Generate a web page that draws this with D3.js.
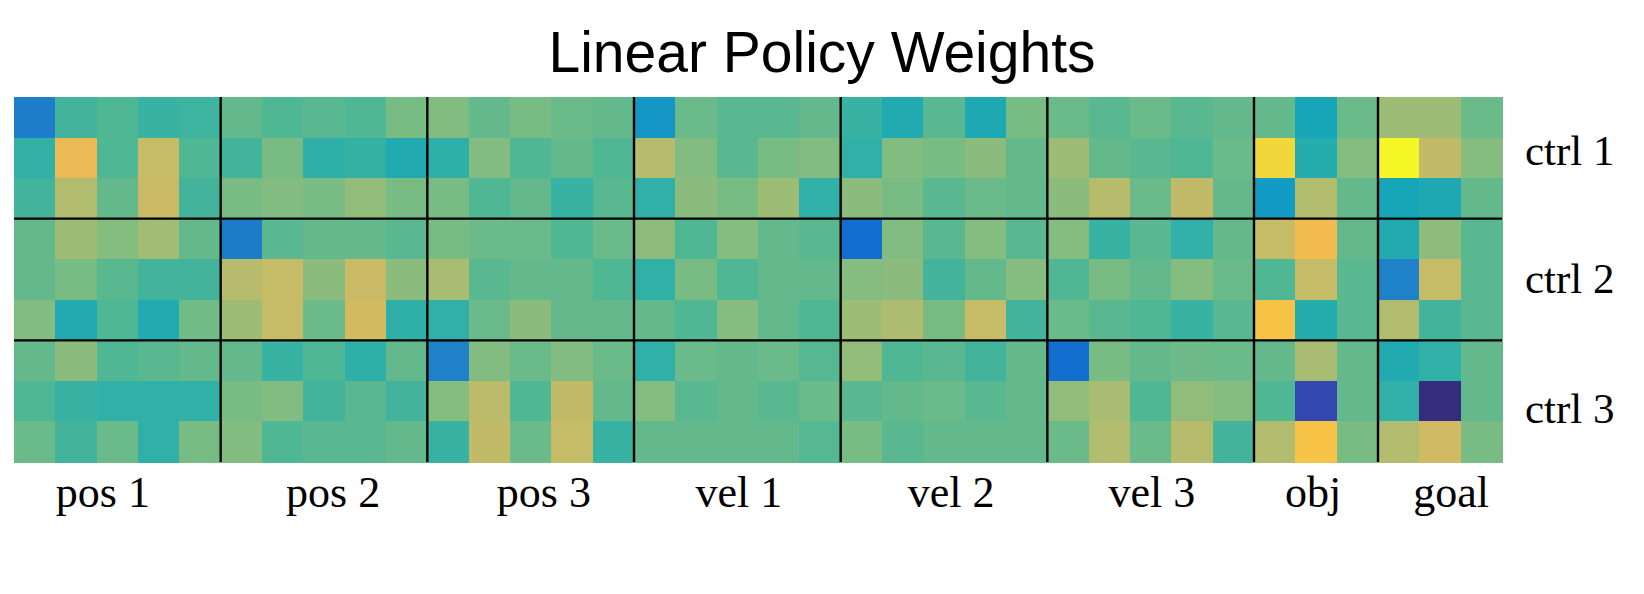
<!DOCTYPE html>
<html>
<head>
<meta charset="utf-8">
<script src="https://cdn.jsdelivr.net/npm/d3@7"></script>
<style>
  html, body { margin: 0; padding: 0; background: #ffffff; }
  svg { display: block; }
</style>
</head>
<body>
<svg id="chart" width="1644" height="594"></svg>
<script>
// ---------------- data ----------------
const chartTitle = "Linear Policy Weights";
const columnGroups = ["pos 1", "pos 2", "pos 3", "vel 1", "vel 2", "vel 3", "obj", "goal"];
const columnGroupSizes = [5, 5, 5, 5, 5, 5, 3, 3];
const rowGroups = ["ctrl 1", "ctrl 2", "ctrl 3"];
const rowGroupSizes = [3, 3, 3];
// label anchor positions, in column / row units
const columnLabelAt = [2.15, 7.72, 12.82, 17.54, 22.67, 27.53, 31.43, 34.77];
const rowLabelAt = [1.68, 4.83, 8.04];

// weights, one array per output row (9 rows x 36 inputs)
const row0 = [0.24,0.51,0.53,0.49,0.50,0.56,0.53,0.545,0.53,0.59, 0.605,0.56,0.59,0.57,0.56,0.33,0.57,0.545,0.545,0.56, 0.49,0.44,0.545,0.43,0.59,0.57,0.545,0.57,0.545, 0.56,0.56,0.41,0.57,0.65,0.65,0.57];
const row1 = [0.48,0.81,0.53,0.73,0.53,0.51,0.59,0.47,0.485,0.44, 0.47,0.605,0.53,0.56,0.53,0.70,0.605,0.545,0.59,0.605, 0.475,0.605,0.59,0.62,0.56,0.65,0.56,0.545,0.53, 0.57,0.92,0.45,0.61,1.0,0.72,0.61];
const row2 = [0.51,0.69,0.56,0.74,0.51,0.59,0.605,0.59,0.63,0.59, 0.59,0.53,0.56,0.49,0.545,0.475,0.62,0.59,0.65,0.475, 0.62,0.59,0.545,0.57,0.56,0.62,0.70,0.57,0.72, 0.56,0.35,0.69,0.56,0.41,0.43,0.56];
const row3 = [0.56,0.65,0.61,0.66,0.56,0.23,0.545,0.56,0.56,0.545, 0.59,0.57,0.57,0.53,0.57,0.625,0.53,0.61,0.56,0.545, 0.17,0.605,0.545,0.61,0.545,0.61,0.49,0.545,0.475, 0.56,0.73,0.83,0.56,0.44,0.625,0.545];
const row4 = [0.56,0.59,0.545,0.51,0.51,0.70,0.73,0.62,0.74,0.62, 0.67,0.545,0.56,0.56,0.53,0.475,0.59,0.53,0.56,0.56, 0.61,0.62,0.51,0.56,0.61,0.53,0.59,0.56,0.61, 0.57,0.53,0.73,0.545,0.25,0.73,0.545];
const row5 = [0.605,0.44,0.53,0.44,0.58,0.65,0.73,0.57,0.76,0.47, 0.475,0.57,0.62,0.56,0.56,0.56,0.53,0.61,0.56,0.53, 0.65,0.68,0.59,0.73,0.51,0.57,0.545,0.53,0.49, 0.545,0.86,0.45,0.545,0.69,0.51,0.545];
const row6 = [0.56,0.62,0.53,0.545,0.56,0.56,0.49,0.53,0.47,0.56, 0.25,0.605,0.57,0.605,0.57,0.475,0.57,0.56,0.57,0.54, 0.63,0.53,0.545,0.51,0.56,0.17,0.59,0.56,0.575, 0.57,0.56,0.67,0.56,0.44,0.475,0.56];
const row7 = [0.53,0.49,0.475,0.475,0.475,0.59,0.605,0.51,0.545,0.51, 0.61,0.71,0.53,0.72,0.56,0.61,0.545,0.56,0.545,0.57, 0.545,0.56,0.57,0.545,0.56,0.63,0.67,0.53,0.63, 0.61,0.53,0.07,0.56,0.475,0.0,0.56];
const row8 = [0.57,0.51,0.57,0.475,0.59,0.605,0.53,0.545,0.545,0.56, 0.49,0.72,0.57,0.73,0.49,0.56,0.56,0.56,0.56,0.54, 0.59,0.545,0.56,0.56,0.56,0.57,0.69,0.57,0.70, 0.51,0.69,0.86,0.59,0.69,0.75,0.59];
const weights = [row0, row1, row2, row3, row4, row5, row6, row7, row8];

// ---------------- colormap (parula, slightly desaturated as in the rendered figure) ----------------
const parulaRGB = [
[0.2081,0.1663,0.5292],[0.2116,0.1898,0.5777],[0.2123,0.2138,0.6270],[0.2081,0.2386,0.6771],
[0.1959,0.2645,0.7279],[0.1707,0.2919,0.7792],[0.1253,0.3242,0.8303],[0.0591,0.3598,0.8683],
[0.0117,0.3875,0.8820],[0.0060,0.4086,0.8828],[0.0165,0.4266,0.8786],[0.0329,0.4430,0.8720],
[0.0498,0.4586,0.8641],[0.0629,0.4737,0.8554],[0.0723,0.4887,0.8467],[0.0779,0.5040,0.8384],
[0.0793,0.5200,0.8312],[0.0749,0.5375,0.8263],[0.0641,0.5570,0.8240],[0.0488,0.5772,0.8228],
[0.0343,0.5966,0.8199],[0.0265,0.6137,0.8135],[0.0239,0.6287,0.8038],[0.0231,0.6418,0.7913],
[0.0228,0.6535,0.7768],[0.0267,0.6642,0.7607],[0.0384,0.6743,0.7436],[0.0590,0.6838,0.7254],
[0.0843,0.6928,0.7062],[0.1133,0.7015,0.6859],[0.1453,0.7098,0.6646],[0.1801,0.7177,0.6424],
[0.2178,0.7250,0.6193],[0.2586,0.7317,0.5954],[0.3022,0.7376,0.5712],[0.3482,0.7424,0.5473],
[0.3953,0.7459,0.5244],[0.4420,0.7481,0.5033],[0.4871,0.7491,0.4840],[0.5300,0.7491,0.4661],
[0.5709,0.7485,0.4494],[0.6099,0.7473,0.4337],[0.6473,0.7456,0.4188],[0.6834,0.7435,0.4044],
[0.7184,0.7411,0.3905],[0.7525,0.7384,0.3768],[0.7858,0.7356,0.3633],[0.8185,0.7327,0.3498],
[0.8507,0.7299,0.3360],[0.8824,0.7274,0.3217],[0.9139,0.7258,0.3063],[0.9450,0.7261,0.2886],
[0.9739,0.7314,0.2666],[0.9938,0.7455,0.2403],[0.9990,0.7653,0.2164],[0.9955,0.7861,0.1967],
[0.9880,0.8066,0.1794],[0.9789,0.8271,0.1633],[0.9697,0.8481,0.1475],[0.9626,0.8705,0.1309],
[0.9589,0.8949,0.1132],[0.9598,0.9218,0.0948],[0.9661,0.9514,0.0755],[0.9763,0.9831,0.0538]
];
const desat = 0.12;
const parula = parulaRGB.map(([r, g, b]) => {
  const l = 0.299 * r + 0.587 * g + 0.114 * b;
  const m = v => 255 * (v * (1 - desat) + l * desat);
  return d3.rgb(m(r), m(g), m(b)).formatHex();
});

// ---------------- layout ----------------
const svg = d3.select("#chart");
const nCols = d3.sum(columnGroupSizes);
const nRows = d3.sum(rowGroupSizes);
const x = d3.scaleLinear().domain([0, nCols]).range([14, 1502]);
const y = d3.scaleLinear().domain([0, nRows]).range([97, 462]);
const flat = weights.flat();
const color = d3.scaleSequential(d3.piecewise(d3.interpolateRgb, parula)).domain(d3.extent(flat));

// cells
const cells = [];
weights.forEach((row, r) => row.forEach((v, c) => cells.push({r, c, v})));
svg.append("g")
  .attr("shape-rendering", "crispEdges")
  .selectAll("rect")
  .data(cells)
  .join("rect")
  .attr("x", d => x(d.c))
  .attr("y", d => y(d.r))
  .attr("width", d => x(d.c + 1) - x(d.c) + 0.5)
  .attr("height", d => y(d.r + 1) - y(d.r) + 0.5)
  .attr("fill", d => color(d.v));

// group separator lines
const colBounds = d3.cumsum(columnGroupSizes).slice(0, -1);
const rowBounds = d3.cumsum(rowGroupSizes).slice(0, -1);
const lines = svg.append("g").attr("stroke", "#000").attr("stroke-width", 2.4);
lines.selectAll("line.v").data(colBounds).join("line")
  .attr("class", "v")
  .attr("x1", d => x(d)).attr("x2", d => x(d))
  .attr("y1", y(0)).attr("y2", y(nRows));
lines.selectAll("line.h").data(rowBounds).join("line")
  .attr("class", "h")
  .attr("x1", x(0)).attr("x2", x(nCols))
  .attr("y1", d => y(d)).attr("y2", d => y(d));

// title
svg.append("text")
  .attr("x", 822).attr("y", 72)
  .attr("text-anchor", "middle")
  .attr("font-family", "'Liberation Sans', Arial, Helvetica, sans-serif")
  .attr("font-size", 57)
  .attr("fill", "#000")
  .text(chartTitle);

// bottom group labels
svg.append("g").selectAll("text")
  .data(columnGroups)
  .join("text")
  .attr("x", (d, i) => x(columnLabelAt[i]))
  .attr("y", 507)
  .attr("text-anchor", "middle")
  .attr("font-family", "'Liberation Serif', 'DejaVu Serif', serif")
  .attr("font-size", 44)
  .attr("fill", "#000")
  .text(d => d);

// right group labels
svg.append("g").selectAll("text")
  .data(rowGroups)
  .join("text")
  .attr("x", 1525)
  .attr("y", (d, i) => y(rowLabelAt[i]))
  .attr("text-anchor", "start")
  .attr("font-family", "'Liberation Serif', 'DejaVu Serif', serif")
  .attr("font-size", 43)
  .attr("fill", "#000")
  .text(d => d);
</script>
</body>
</html>
